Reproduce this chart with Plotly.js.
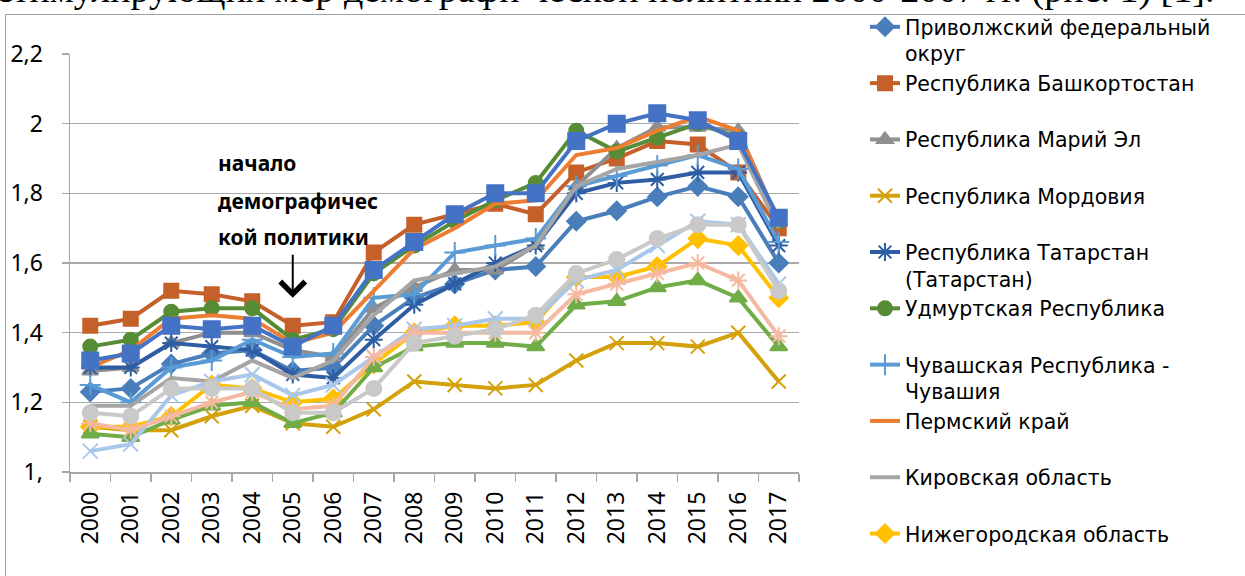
<!DOCTYPE html>
<html>
<head>
<meta charset="utf-8">
<script src="https://cdn.plot.ly/plotly-3.0.1.min.js"></script>
<style>html,body{margin:0;padding:0;background:#fff;}#chart{width:1245px;height:576px;}</style>
</head>
<body>
<div id="chart"></div>
<script>
const years = ['2000','2001','2002','2003','2004','2005','2006','2007','2008','2009','2010','2011','2012','2013','2014','2015','2016','2017'];
const yTickVals = [1, 1.2, 1.4, 1.6, 1.8, 2, 2.2];
const yTickText = ['1,', '1,2', '1,4', '1,6', '1,8', '2', '2,2'];

const privolzhsky   = [1.23,1.24,1.31,1.34,1.35,1.29,1.30,1.42,1.50,1.54,1.58,1.59,1.72,1.75,1.79,1.82,1.79,1.60];
const bashkortostan = [1.42,1.44,1.52,1.51,1.49,1.42,1.43,1.63,1.71,1.74,1.77,1.74,1.86,1.90,1.95,1.94,1.86,1.70];
const mariEl        = [1.29,1.30,1.37,1.40,1.40,1.35,1.33,1.47,1.53,1.58,1.58,1.65,1.82,1.93,1.99,1.99,1.98,1.72];
const mordovia      = [1.13,1.12,1.12,1.16,1.19,1.14,1.13,1.18,1.26,1.25,1.24,1.25,1.32,1.37,1.37,1.36,1.40,1.26];
const tatarstan     = [1.30,1.30,1.37,1.36,1.35,1.28,1.27,1.38,1.48,1.54,1.60,1.65,1.80,1.83,1.84,1.86,1.86,1.65];
const udmurtia      = [1.36,1.38,1.46,1.47,1.47,1.38,1.41,1.57,1.65,1.72,1.78,1.83,1.98,1.92,1.96,2.00,1.96,1.72];
const chuvashia     = [1.25,1.20,1.30,1.32,1.38,1.33,1.34,1.50,1.51,1.63,1.65,1.67,1.82,1.85,1.88,1.91,1.87,1.66];
const perm          = [1.30,1.35,1.44,1.45,1.44,1.37,1.40,1.52,1.64,1.70,1.77,1.78,1.91,1.93,1.98,2.02,1.98,1.71];
const kirov         = [1.19,1.19,1.27,1.26,1.32,1.27,1.32,1.45,1.55,1.57,1.59,1.65,1.82,1.87,1.89,1.91,1.94,1.70];
const nizhny        = [1.13,1.13,1.16,1.25,1.24,1.20,1.21,1.31,1.40,1.42,1.42,1.43,1.56,1.56,1.59,1.67,1.65,1.50];
const orenburg      = [1.32,1.34,1.42,1.41,1.42,1.36,1.42,1.58,1.66,1.74,1.80,1.80,1.95,2.00,2.03,2.01,1.95,1.73];
const penza         = [1.11,1.10,1.15,1.19,1.20,1.14,1.17,1.30,1.36,1.37,1.37,1.36,1.48,1.49,1.53,1.55,1.50,1.36];
const samara        = [1.06,1.08,1.22,1.26,1.28,1.22,1.25,1.33,1.41,1.42,1.44,1.44,1.55,1.58,1.65,1.72,1.71,1.54];
const saratov       = [1.14,1.12,1.16,1.20,1.23,1.18,1.19,1.33,1.40,1.40,1.40,1.40,1.51,1.54,1.57,1.60,1.55,1.39];
const ulyanovsk     = [1.17,1.16,1.24,1.24,1.24,1.17,1.17,1.24,1.37,1.39,1.41,1.45,1.57,1.61,1.67,1.71,1.71,1.52];

const FONT = 'Noto Sans, DejaVu Sans, sans-serif';
const LEGEND_FONT = 'DejaVu Sans, Noto Sans, sans-serif';

const seriesDefs = [
  {name:'Приволжский федеральный<br>округ', y:privolzhsky, color:'#4A7EBB', symbol:'diamond', size:14, legend:true},
  {name:'Республика Башкортостан<br>&nbsp;', y:bashkortostan, color:'#C5602A', symbol:'square', size:14, legend:true},
  {name:'Республика Марий Эл<br>&nbsp;', y:mariEl, color:'#8F8F8F', symbol:'triangle-up', size:14, legend:true},
  {name:'Республика Мордовия<br>&nbsp;', y:mordovia, color:'#D4A10A', symbol:'x-thin-open', size:14, legend:true},
  {name:'Республика Татарстан<br>(Татарстан)', y:tatarstan, color:'#2F5DA4', symbol:'asterisk-open', size:15, legend:true},
  {name:'Удмуртская Республика<br>&nbsp;', y:udmurtia, color:'#568C35', symbol:'circle', size:14, legend:true},
  {name:'Чувашская Республика -<br>Чувашия', y:chuvashia, color:'#5B9BD5', symbol:'cross-thin-open', size:15, legend:true},
  {name:'Пермский край<br>&nbsp;', y:perm, color:'#ED7D31', symbol:null, legend:true},
  {name:'Кировская область<br>&nbsp;', y:kirov, color:'#A5A5A5', symbol:null, legend:true},
  {name:'Нижегородская область<br>&nbsp;', y:nizhny, color:'#FFC000', symbol:'diamond', size:14, legend:true},
  {name:'Оренбургская область', y:orenburg, color:'#4472C4', symbol:'square', size:16, legend:false},
  {name:'Пензенская область', y:penza, color:'#70AD47', symbol:'triangle-up', size:15, legend:false},
  {name:'Самарская область', y:samara, color:'#A9C7EA', symbol:'x-thin-open', size:15, legend:false},
  {name:'Саратовская область', y:saratov, color:'#F4B9A0', symbol:'asterisk-open', size:15, legend:false},
  {name:'Ульяновская область', y:ulyanovsk, color:'#C9C9C9', symbol:'circle', size:15, legend:false}
];

const traces = seriesDefs.map(s => {
  const t = {
    type:'scatter', x: years, y: s.y, name: s.name, showlegend: s.legend,
    mode: s.symbol ? 'lines+markers' : 'lines',
    line: {color: s.color, width: 4}
  };
  if (s.symbol) {
    t.marker = {symbol: s.symbol, size: s.size, color: s.color, line: {color: s.color, width: 2}};
  }
  return t;
});

const L = 70, T = 54, W = 729, H = 418;
const px2x = p => (p - L) / W;
const px2y = p => (T + H - p) / H;

const layout = {
  width: 1245, height: 576,
  margin: {l: L, r: 1245 - L - W, t: T, b: 576 - T - H, autoexpand: false},
  paper_bgcolor: '#fff', plot_bgcolor: '#fff',
  font: {family: FONT, size: 22, color: '#000'},
  showlegend: true,
  legend: {
    x: px2x(865), y: px2y(7), xanchor: 'left', yanchor: 'top',
    font: {family: LEGEND_FONT, size: 20.5, color: '#000'},
    valign: 'top', tracegroupgap: 0, bgcolor: 'rgba(0,0,0,0)', maxheight: 1000
  },
  xaxis: {
    type: 'category', categoryorder: 'array', categoryarray: years,
    range: [-0.5, 17.5], tickangle: -90,
    showgrid: false, showline: true, linecolor: '#A6A6A6', linewidth: 1.5,
    ticks: 'outside', tickson: 'boundaries', ticklen: 8, tickcolor: '#A6A6A6', tickwidth: 1.5,
    ticklabelstandoff: 9,
    tickfont: {family: FONT, size: 23, color: '#000'}, zeroline: false
  },
  yaxis: {
    range: [1, 2.2], tickvals: yTickVals, ticktext: yTickText,
    showgrid: true, gridcolor: '#AAAAAA', gridwidth: 1.5,
    showline: true, linecolor: '#A6A6A6', linewidth: 1.5,
    ticks: 'outside', ticklen: 7, tickcolor: '#A6A6A6', tickwidth: 1.5,
    ticklabelstandoff: 14,
    tickfont: {family: FONT, size: 23, color: '#000'}, zeroline: false
  },
  shapes: [
    {type: 'rect', xref: 'paper', yref: 'paper',
     x0: px2x(5.5), y0: px2y(700), x1: px2x(1400), y1: px2y(14.5),
     line: {color: '#A0A0A0', width: 1}, fillcolor: 'rgba(0,0,0,0)', layer: 'below'}
  ],
  annotations: [
    {xref: 'paper', yref: 'paper', x: px2x(1216), y: px2y(13), xanchor: 'right', yanchor: 'bottom',
     text: 'стимулирующих мер демографи ческой политики 2000-2007 гг. (рис. 1) [1].',
     showarrow: false, font: {family: 'Liberation Serif, serif', size: 38, color: '#000'}},
    {xref: 'paper', yref: 'paper', x: px2x(216), y: px2y(163), xanchor: 'left', yanchor: 'middle',
     text: '<b>начало</b>', showarrow: false, font: {family: FONT, size: 21, color: '#000'}},
    {xref: 'paper', yref: 'paper', x: px2x(216), y: px2y(201), xanchor: 'left', yanchor: 'middle',
     text: '<b>демографичес</b>', showarrow: false, font: {family: FONT, size: 21, color: '#000'}},
    {xref: 'paper', yref: 'paper', x: px2x(216), y: px2y(237), xanchor: 'left', yanchor: 'middle',
     text: '<b>кой политики</b>', showarrow: false, font: {family: FONT, size: 21, color: '#000'}},
    {xref: 'x', yref: 'y', x: years.indexOf('2005'), y: 1.5, ax: 0, ay: -44, text: ' ',
     font: {size: 1}, borderpad: 0,
     showarrow: true, arrowhead: 4, arrowsize: 2.4, arrowwidth: 2, arrowcolor: '#000'}
  ]
};

Plotly.newPlot('chart', traces, layout, {displayModeBar: false, staticPlot: true});
</script>
</body>
</html>
